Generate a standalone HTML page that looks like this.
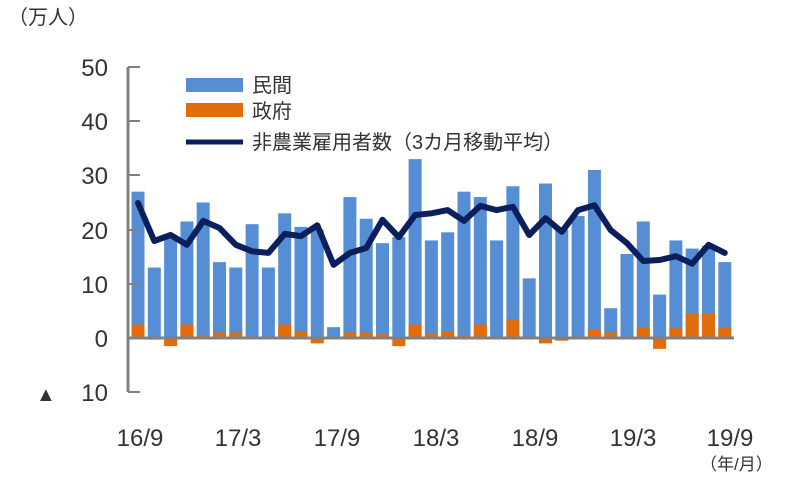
<!DOCTYPE html>
<html><head><meta charset="utf-8"><style>
body{margin:0;background:#fff}
svg{display:block;font-family:"Liberation Sans","Noto Sans CJK JP",sans-serif}
</style></head><body>
<svg id="sv" width="803" height="477" viewBox="0 0 803 477" xmlns="http://www.w3.org/2000/svg">
<rect width="803" height="477" fill="#fff"/>
<g id="bars"></g>
<line x1="128" y1="67" x2="128" y2="392" stroke="#808080" stroke-width="3"/>
<line x1="128" y1="338" x2="734" y2="338" stroke="#808080" stroke-width="3"/>
<g stroke="#808080" stroke-width="2">
<line x1="128" y1="67" x2="140" y2="67"/><line x1="128" y1="121" x2="140" y2="121"/><line x1="128" y1="175" x2="140" y2="175"/><line x1="128" y1="230" x2="140" y2="230"/><line x1="128" y1="284" x2="140" y2="284"/><line x1="128" y1="392" x2="140" y2="392"/>
</g>
<g font-size="24" fill="#333" text-anchor="end">
<text x="108" y="76">50</text><text x="108" y="130">40</text><text x="108" y="184">30</text><text x="108" y="239">20</text><text x="108" y="293">10</text><text x="108" y="347">0</text><text x="108" y="401">10</text>
</g>
<text x="36" y="401" font-size="20" fill="#333">▲</text>
<text x="8" y="24" font-size="20" fill="#333">（万人）</text>
<g font-size="24" fill="#333" text-anchor="middle">
<text x="140" y="446">16/9</text><text x="238" y="446">17/3</text><text x="337" y="446">17/9</text><text x="436" y="446">18/3</text><text x="535" y="446">18/9</text><text x="633" y="446">19/3</text><text x="730" y="446">19/9</text>
</g>
<text x="700" y="470" font-size="17" fill="#333">（年/月）</text>
<rect x="186" y="78" width="57" height="14" fill="#558ed5"/>
<text x="252" y="92" font-size="20" fill="#333">民間</text>
<rect x="186" y="103" width="57" height="14" fill="#e36c0a"/>
<text x="252" y="118" font-size="20" fill="#333">政府</text>
<line x1="186" y1="142" x2="243" y2="142" stroke="#0a1f5c" stroke-width="5"/>
<text x="252" y="149" font-size="20" fill="#333">非農業雇用者数（3カ月移動平均）</text>
<polyline id="ln" fill="none" stroke="#0a1f5c" stroke-width="6" stroke-linejoin="round" stroke-linecap="round"/>
</svg>
<script>
var p=[27,13,18.5,21.5,25,14,13,21,13,23,20.5,20,2,26,22,17.5,18.6,33,18,19.5,27,26,18,28,11,28.5,20,22.5,31,5.5,15.5,21.5,8,18,16.5,17,14];
var g=[2.5,-0.3,-1.5,2.5,0.5,1,1,0.3,0,2.5,1.2,-1,0,1,1,0.7,-1.5,2.5,0.8,1.2,0.5,2.5,0.2,3.5,0,-1,-0.5,0.3,1.5,1,0,2,-2,1.8,4.5,4.5,2];
var l=[24.9,17.9,19,17.2,21.6,20.3,17.2,16,15.7,19.2,18.8,20.8,13.5,15.7,16.6,21.8,18.6,22.7,23,23.6,21.6,24.4,23.6,24.2,19,22.1,19.6,23.6,24.5,19.9,17.5,14.2,14.4,15.1,13.7,17.2,15.7];
var NS="http://www.w3.org/2000/svg",G=document.getElementById("bars"),pts=[];
function Y(v){return 338-v*5.42;}
function R(x,y,w,h,c){var r=document.createElementNS(NS,"rect");r.setAttribute("x",x);r.setAttribute("y",y);r.setAttribute("width",w);r.setAttribute("height",h);r.setAttribute("fill",c);G.appendChild(r);}
for(var i=0;i<37;i++){var x=130+i*16.3;
R(x+1.5,Y(p[i]),13,p[i]*5.42,"#558ed5");
var a=Y(Math.max(g[i],0)),b=Y(Math.min(g[i],0));
if(g[i]!=0)R(x+1.5,a,13,b-a,"#e36c0a");
pts.push((x+8).toFixed(1)+","+Y(l[i]).toFixed(1));}
document.getElementById("ln").setAttribute("points",pts.join(" "));
</script>
</body></html>
